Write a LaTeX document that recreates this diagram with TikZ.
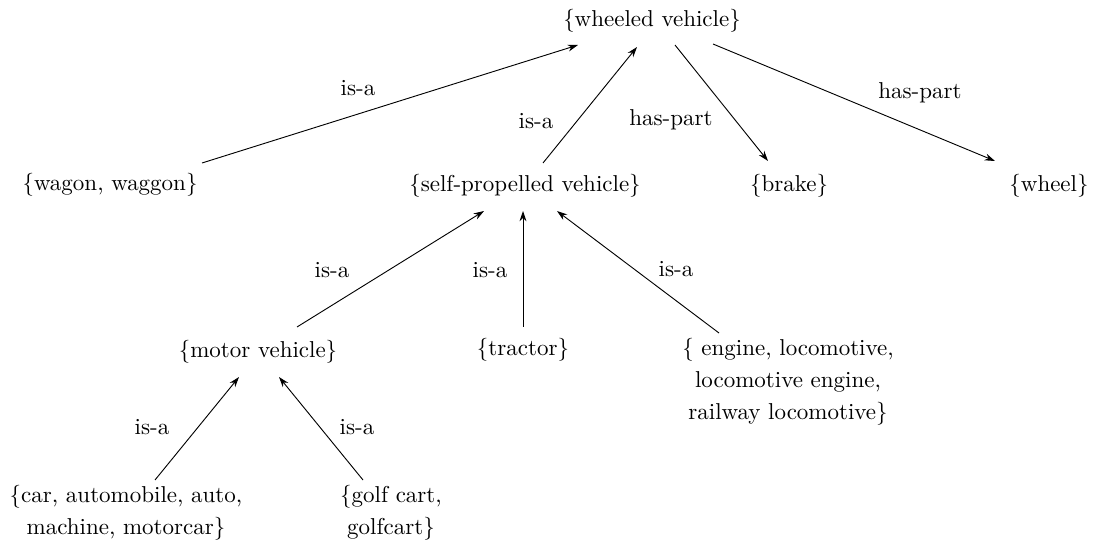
\documentclass[tikz,border=0pt]{standalone}
\usetikzlibrary{arrows.meta}
\tikzset{
  syn/.style={align=center, font=\fontsize{10}{14}\selectfont, inner sep=0pt},
  rel/.style={-{Stealth[length=4.5pt,width=3pt]}},
  lbl/.style={inner sep=0pt}
}
\begin{document}
\begin{tikzpicture}[x=0.435pt, y=-0.435pt]
    \useasboundingbox (0,0) rectangle (1096,546);
    % synsets
    \node[syn] (wheeled) at (652,21)  {\{wheeled vehicle\}};
    \node[syn] (wagon)   at (110,185) {\{wagon, waggon\}};
    \node[syn] (self)    at (525,186) {\{self-propelled vehicle\}};
    \node[syn] (brake)   at (789,186) {\{brake\}};
    \node[syn] (wheel)   at (1049,186) {\{wheel\}};
    \node[syn] (motor)   at (258,352) {\{motor vehicle\}};
    \node[syn] (tractor) at (523,350) {\{tractor\}};
    \node[syn] (engine)  at (788,382) {\{ engine, locomotive,\\ locomotive engine,\\ railway locomotive\}};
    \node[syn] (car)     at (126,513) {\{car, automobile, auto,\\ machine, motorcar\}};
    \node[syn] (golf)    at (391,513) {\{golf cart,\\ golfcart\}};
    % relations
    \draw[rel] ([shift={(92,-22)}]wagon.center) -- ([shift={(-74,24)}]wheeled.center) node[lbl] at (358,88) {is-a};
    \draw[rel] ([shift={(18,-23)}]self.center) -- ([shift={(-15,26)}]wheeled.center) node[lbl] at (536,121) {is-a};
    \draw[rel] ([shift={(23,24)}]wheeled.center) -- ([shift={(-21,-25)}]brake.center) node[lbl] at (671,120) {has-part};
    \draw[rel] ([shift={(61,23)}]wheeled.center) -- ([shift={(-54,-25)}]wheel.center) node[lbl] at (920,93) {has-part};
    \draw[rel] ([shift={(39,-25)}]motor.center) -- ([shift={(-41,25)}]self.center) node[lbl] at (332,270) {is-a};
    \draw[rel] ([shift={(0,-23)}]tractor.center) -- ([shift={(-2,25)}]self.center) node[lbl] at (490,270) {is-a};
    \draw[rel] ([shift={(-69,-49)}]engine.center) -- ([shift={(32,25)}]self.center) node[lbl] at (676,269) {is-a};
    \draw[rel] ([shift={(29,-33)}]car.center) -- ([shift={(-19,25)}]motor.center) node[lbl] at (152,427) {is-a};
    \draw[rel] ([shift={(-28,-33)}]golf.center) -- ([shift={(21,25)}]motor.center) node[lbl] at (357,427) {is-a};
\end{tikzpicture}
\end{document}
